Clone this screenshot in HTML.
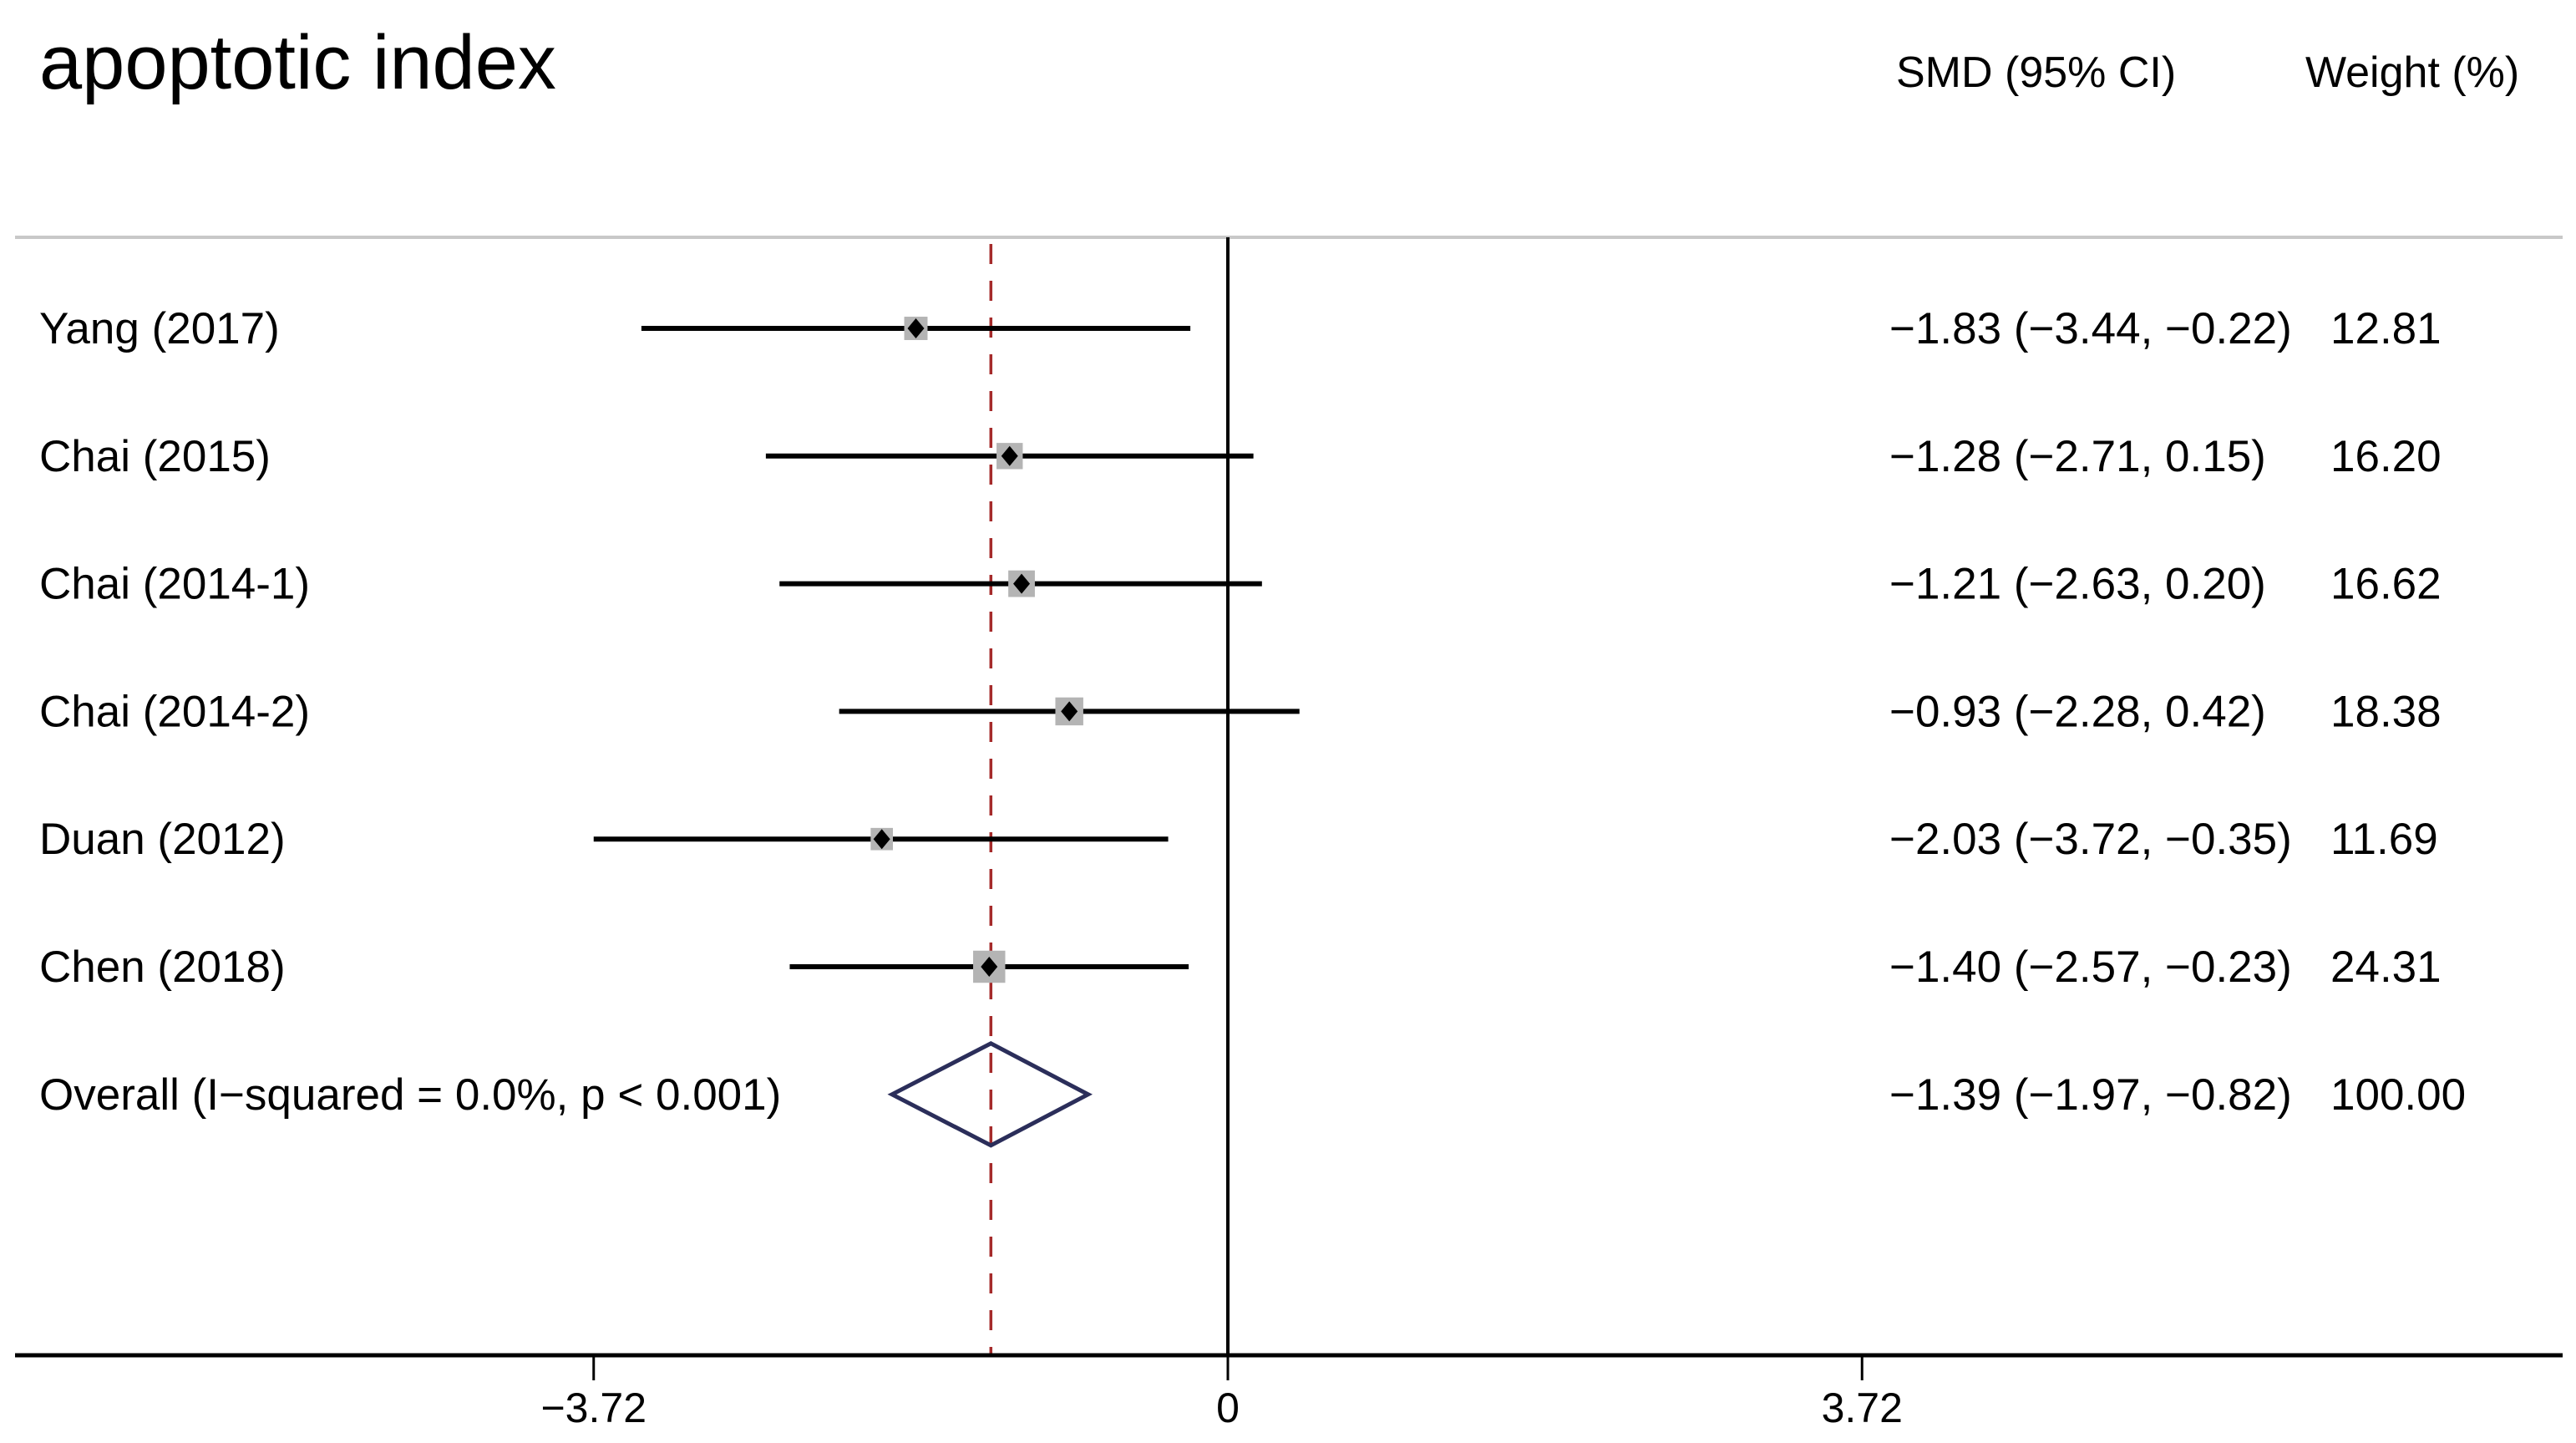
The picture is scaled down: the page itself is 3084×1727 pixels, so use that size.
<!DOCTYPE html>
<html><head><meta charset="utf-8"><style>
html,body{margin:0;padding:0;background:#fff;}
svg{display:block;font-family:"Liberation Sans",sans-serif;}
</style></head><body>
<svg id="chart" width="3084" height="1727" viewBox="0 0 3084 1727" xmlns="http://www.w3.org/2000/svg">
<text x="47" y="106" font-size="92" fill="#000">apoptotic index</text>
<text x="2270" y="104" font-size="52" fill="#000">SMD (95% CI)</text>
<text x="2760" y="104" font-size="52" fill="#000">Weight (%)</text>
<line x1="18" y1="284" x2="3068" y2="284" stroke="#c8c8c8" stroke-width="4"/>
<g id="plot"></g>
</svg>
<script>
const studies = ["Yang (2017)","Chai (2015)","Chai (2014-1)","Chai (2014-2)","Duan (2012)","Chen (2018)"];
const smd = [-1.83,-1.28,-1.21,-0.93,-2.03,-1.40];
const lower = [-3.44,-2.71,-2.63,-2.28,-3.72,-2.57];
const upper = [-0.22,0.15,0.20,0.42,-0.35,-0.23];
const weights = [12.81,16.20,16.62,18.38,11.69,24.31];
const overall = [-1.39,-1.97,-0.82];
const overallLabel = "Overall  (I\u2212squared = 0.0%, p < 0.001)";
const tickValues = [-3.72,0,3.72];
const tickLabels = ["\u22123.72","0","3.72"];

const NS="http://www.w3.org/2000/svg";
const g=document.getElementById('plot');
const X0=1470, UNIT=204.1, ROW0=393, ROWH=152.8, AXISY=1622, TOPY=284;
const xs=v=>X0+v*UNIT;
const ys=i=>ROW0+i*ROWH;
const fmt=v=>(v<0?"\u2212":"")+Math.abs(v).toFixed(2);
function mk(tag,attrs,parent){const e=document.createElementNS(NS,tag);for(const k in attrs)e.setAttribute(k,attrs[k]);(parent||g).appendChild(e);return e;}

let e;
e=mk('line',{x1:X0,y1:TOPY,x2:X0,y2:AXISY,stroke:'#000','stroke-width':4});


e=mk('line',{x1:xs(overall[0]),y1:292,x2:xs(overall[0]),y2:AXISY,stroke:'#a52a2a','stroke-width':3.5,'stroke-dasharray':'24,20'});



studies.forEach((s,i)=>{
  const y=ys(i);
  const row=mk('g',{});
  
  
  e=mk('text',{x:47,y:y+18,'font-size':53,fill:'#000'},row);e.textContent=s;
  
  
  e=mk('line',{x1:xs(lower[i]),y1:y,x2:xs(upper[i]),y2:y,stroke:'#000','stroke-width':6},row);
  
  
  const side=7.8*Math.sqrt(weights[i]);const cx=xs(smd[i]);
  e=mk('rect',{x:cx-side/2,y:y-side/2,width:side,height:side,fill:'#b4b4b4'},row);
  
  
  e=mk('polygon',{points:`${cx},${y-12} ${cx+10},${y} ${cx},${y+12} ${cx-10},${y}`,fill:'#000'},row);
  
  
  e=mk('text',{x:2262,y:y+18,'font-size':53,fill:'#000'},row);
  e.textContent=`${fmt(smd[i])} (${fmt(lower[i])}, ${fmt(upper[i])})`;
  
  
  e=mk('text',{x:2790,y:y+18,'font-size':53,fill:'#000'},row);
  e.textContent=weights[i].toFixed(2);
  
  
});

const oy=ys(studies.length);
e=mk('text',{x:47,y:oy+18,'font-size':53,fill:'#000'});e.textContent=overallLabel;


e=mk('polygon',{points:`${xs(overall[1])},${oy} ${xs(overall[0])},${oy-61} ${xs(overall[2])},${oy} ${xs(overall[0])},${oy+61}`,fill:'none',stroke:'#2b2e5a','stroke-width':5});


e=mk('text',{x:2262,y:oy+18,'font-size':53,fill:'#000'});
e.textContent=`${fmt(overall[0])} (${fmt(overall[1])}, ${fmt(overall[2])})`;


e=mk('text',{x:2790,y:oy+18,'font-size':53,fill:'#000'});e.textContent="100.00";



e=mk('line',{x1:18,y1:AXISY,x2:3068,y2:AXISY,stroke:'#000','stroke-width':5});


tickValues.forEach((v,i)=>{
  e=mk('line',{x1:xs(v),y1:AXISY,x2:xs(v),y2:AXISY+30,stroke:'#000','stroke-width':3});
  
  
  e=mk('text',{x:xs(v),y:1702,'font-size':50,'text-anchor':'middle',fill:'#000'});e.textContent=tickLabels[i];
  
  
});
</script>
</body></html>
